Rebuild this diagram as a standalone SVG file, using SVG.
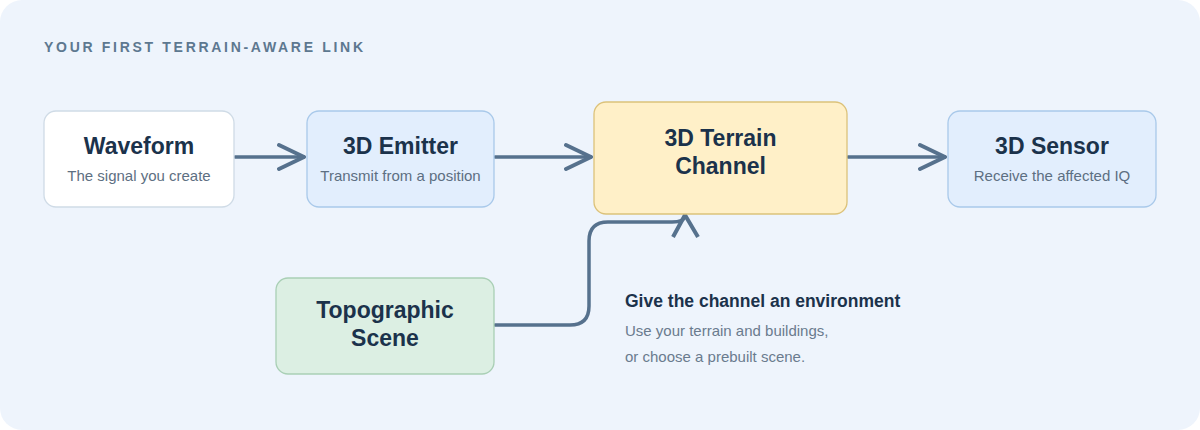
<svg xmlns="http://www.w3.org/2000/svg" width="1200" height="430" viewBox="0 0 1200 430">
<defs>
<style>
.box{stroke-width:1.3}
.title{font-family:"Liberation Sans",Arial,sans-serif;font-weight:700;font-size:23px;fill:#1b324b;text-anchor:middle}
.sub{font-family:"Liberation Sans",Arial,sans-serif;font-size:15px;fill:#5d6f82;text-anchor:middle}
.conn{fill:none;stroke:#56718d;stroke-width:3.5;stroke-linecap:round}
</style>
<marker id="chev" viewBox="0 0 30 30" refX="27" refY="15" markerWidth="30" markerHeight="30" markerUnits="userSpaceOnUse" orient="auto">
<path d="M2,3 L27,15 L2,27" fill="none" stroke="#56718d" stroke-width="4" stroke-linecap="round" stroke-linejoin="round"/>
</marker>
</defs>
<rect x="0" y="0" width="1200" height="430" fill="#ffffff"/>
<rect x="0" y="0" width="1200" height="430" rx="22" fill="#eef4fc"/>
<text x="44" y="52" font-family="Liberation Sans,Arial,sans-serif" font-weight="700" font-size="14" letter-spacing="2.7" fill="#5d7890">YOUR FIRST TERRAIN-AWARE LINK</text>

<g id="connectors">
<path class="conn" d="M235,157 H304" marker-end="url(#chev)"/>
<path class="conn" d="M495,157 H591" marker-end="url(#chev)"/>
<path class="conn" d="M848,157 H945" marker-end="url(#chev)"/>
<path class="conn" d="M495,325 H570 Q589,325 589,306 V241 Q589,222 608,222 H672 Q685,222 685,215" fill="none"/>
<path d="M673,237 L685,215 L698,237" fill="none" stroke="#56718d" stroke-width="4" stroke-linecap="butt" stroke-linejoin="round"/>
</g>

<g id="waveform">
<rect class="box" x="44" y="111" width="190" height="96" rx="12" fill="#ffffff" stroke="#cfdbe6"/>
<text class="title" x="139" y="154">Waveform</text>
<text class="sub" x="139" y="181">The signal you create</text>
</g>
<g id="emitter">
<rect class="box" x="307" y="111" width="187" height="96" rx="12" fill="#e2eefd" stroke="#a9c9ea"/>
<text class="title" x="400.5" y="154">3D Emitter</text>
<text class="sub" x="400.5" y="181">Transmit from a position</text>
</g>
<g id="channel">
<rect class="box" x="594" y="102" width="253" height="112" rx="12" fill="#fff0c8" stroke="#dcc27a"/>
<text class="title" x="720.5" y="146">3D Terrain</text>
<text class="title" x="720.5" y="174">Channel</text>
</g>
<g id="sensor">
<rect class="box" x="948" y="111" width="208" height="96" rx="12" fill="#e2eefd" stroke="#a9c9ea"/>
<text class="title" x="1052" y="154">3D Sensor</text>
<text class="sub" x="1052" y="181">Receive the affected IQ</text>
</g>
<g id="scene">
<rect class="box" x="276" y="278" width="218" height="96" rx="12" fill="#dcefe3" stroke="#a9cfb5"/>
<text class="title" x="385" y="318">Topographic</text>
<text class="title" x="385" y="346">Scene</text>
</g>
<g id="note">
<text x="625" y="307" font-family="Liberation Sans,Arial,sans-serif" font-weight="700" font-size="17.5" fill="#1b324b">Give the channel an environment</text>
<text x="625" y="336" font-family="Liberation Sans,Arial,sans-serif" font-size="15" fill="#6a7b8e">Use your terrain and buildings,</text>
<text x="625" y="362" font-family="Liberation Sans,Arial,sans-serif" font-size="15" fill="#6a7b8e">or choose a prebuilt scene.</text>
</g>
</svg>
